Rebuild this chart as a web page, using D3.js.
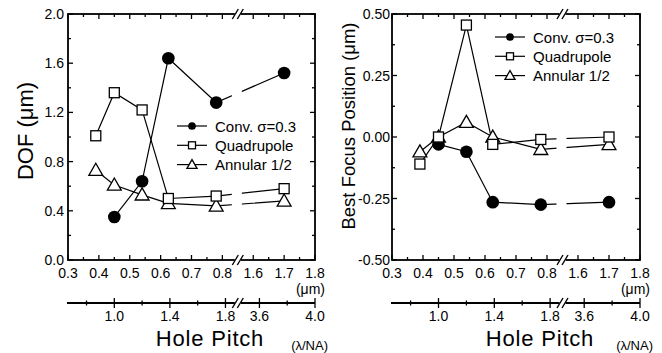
<!DOCTYPE html>
<html>
<head>
<meta charset="utf-8">
<script src="https://cdn.jsdelivr.net/npm/d3@7"></script>
<style>
  body { margin: 0; background: #fff; }
  text { font-family: "Liberation Sans", Arial, Helvetica, sans-serif; fill: #000; }
</style>
</head>
<body>
<div id="chart"></div>
<script>
// hole pitch of each measured point, in um (top axis)
var pitchUm = [0.39, 0.45, 0.54, 0.625, 0.78, 1.70];

// DOF (um)
var dofConv = [null, 0.35, 0.64, 1.64, 1.28, 1.52];
var dofQuad = [1.01, 1.36, 1.22, 0.50, 0.52, 0.58];
var dofAnn  = [0.73, 0.61, 0.53, 0.46, 0.44, 0.48];

// best focus position (um)
var bfConv = [null, -0.03, -0.06, -0.265, -0.275, -0.265];
var bfQuad = [-0.11, 0.0, 0.455, -0.03, -0.01, 0.0];
var bfAnn  = [-0.06, 0.0, 0.06, 0.0, -0.05, -0.03];

// axis ticks
var umTicks = [0.3, 0.4, 0.5, 0.6, 0.7, 0.8, 1.6, 1.7, 1.8];
var umMinor = [0.35, 0.45, 0.55, 0.65, 0.75, 1.65, 1.75];
var lnaTicks = [1.0, 1.4, 1.8, 3.6, 4.0];
var lnaMinor = [0.8, 1.2, 1.6, 3.8];
var dofTicks = [0.0, 0.4, 0.8, 1.2, 1.6, 2.0];
var dofMinor = [0.2, 0.6, 1.0, 1.4, 1.8];
var bfTicks = [-0.50, -0.25, 0.00, 0.25, 0.50];
var bfMinor = [-0.375, -0.125, 0.125, 0.375];

var seriesNames = ["Conv. \u03c3=0.3", "Quadrupole", "Annular 1/2"];
var lambdaNA = 0.45; // 1 lambda/NA in um
var breakLo = 0.85, breakHi = 1.55;

var svg = d3.select("#chart").append("svg")
  .attr("width", 662).attr("height", 353);

// marker drawing
function marker(g, kind, cx, cy, s) {
  if (kind == 0) {
    g.append("circle").attr("cx", cx).attr("cy", cy).attr("r", s * 0.55)
      .attr("fill", "#000");
  } else if (kind == 1) {
    g.append("rect").attr("x", cx - s / 2).attr("y", cy - s / 2)
      .attr("width", s).attr("height", s)
      .attr("fill", "#fff").attr("stroke", "#000").attr("stroke-width", 1.3);
  } else {
    var h = s * 1.05;
    g.append("path")
      .attr("d", "M" + cx + "," + (cy - h * 0.6) + "L" + (cx + h * 0.6) + "," + (cy + h * 0.45) +
        "L" + (cx - h * 0.6) + "," + (cy + h * 0.45) + "Z")
      .attr("fill", "#fff").attr("stroke", "#000").attr("stroke-width", 1.3);
  }
}

function slashes(g, x, y) {
  g.append("rect").attr("x", x - 3).attr("y", y - 2).attr("width", 6).attr("height", 4).attr("fill", "#fff");
  [-2.5, 2.5].forEach(function(d) {
    g.append("line").attr("x1", x + d - 3).attr("y1", y + 5)
      .attr("x2", x + d + 3).attr("y2", y - 5)
      .attr("stroke", "#000").attr("stroke-width", 1.4);
  });
}

function panel(opt) {
  var x0 = opt.x0, x1 = opt.x1, top = 14, bottom = 260;
  var xb = x0 + (breakLo - 0.3) / ((breakLo - 0.3) + (1.8 - breakHi)) * (x1 - x0);
  var x = d3.scaleLinear().domain([0.3, breakLo, breakHi, 1.8]).range([x0, xb, xb, x1]);
  var y = d3.scaleLinear().domain(opt.yDomain).range([bottom, top]);
  var g = svg.append("g");

  // frame
  g.append("rect").attr("x", x0).attr("y", top).attr("width", x1 - x0).attr("height", bottom - top)
    .attr("fill", "none").attr("stroke", "#000").attr("stroke-width", 1.8);

  // ticks, pointing inward
  var tk = g.append("g").attr("stroke", "#000").attr("stroke-width", 1.3);
  umTicks.concat(umMinor).forEach(function(v) {
    var len = umTicks.indexOf(v) >= 0 ? 5 : 3;
    tk.append("line").attr("x1", x(v)).attr("x2", x(v)).attr("y1", bottom).attr("y2", bottom - len);
    tk.append("line").attr("x1", x(v)).attr("x2", x(v)).attr("y1", top).attr("y2", top + len);
  });
  opt.yTicks.concat(opt.yMinor).forEach(function(v) {
    var len = opt.yTicks.indexOf(v) >= 0 ? 5 : 3;
    tk.append("line").attr("x1", x0).attr("x2", x0 + len).attr("y1", y(v)).attr("y2", y(v));
    tk.append("line").attr("x1", x1).attr("x2", x1 - len).attr("y1", y(v)).attr("y2", y(v));
  });

  // tick labels
  g.selectAll(".xl").data(umTicks).enter().append("text")
    .attr("x", function(d) { return x(d); }).attr("y", 278)
    .attr("text-anchor", "middle").style("font-size", "14px")
    .text(function(d) { return d.toFixed(1); });
  g.append("text").attr("x", x1 + 10).attr("y", 294).attr("text-anchor", "end")
    .style("font-size", "14px").text("(\u03bcm)");
  g.selectAll(".yl").data(opt.yTicks).enter().append("text")
    .attr("x", x0 - opt.yPad).attr("y", function(d) { return y(d) + 5; })
    .attr("text-anchor", "end").style("font-size", "14px")
    .text(function(d) { return d.toFixed(opt.yDigits); });

  slashes(g, xb, top);
  slashes(g, xb, bottom);

  // second axis, hole pitch in lambda/NA
  var ay = 303;
  var ag = g.append("g");
  ag.append("line").attr("x1", x0 - 1).attr("x2", x1).attr("y1", ay).attr("y2", ay)
    .attr("stroke", "#000").attr("stroke-width", 1.8);
  lnaTicks.concat(lnaMinor).forEach(function(v) {
    var len = lnaTicks.indexOf(v) >= 0 ? 5 : 2.5;
    ag.append("line").attr("x1", x(v * lambdaNA)).attr("x2", x(v * lambdaNA))
      .attr("y1", ay - len).attr("y2", ay + len)
      .attr("stroke", "#000").attr("stroke-width", 1.3);
  });
  ag.selectAll("text.ln").data(lnaTicks).enter().append("text")
    .attr("x", function(d) { return x(d * lambdaNA); }).attr("y", 321)
    .attr("text-anchor", "middle").style("font-size", "14px")
    .text(function(d) { return d.toFixed(1); });
  slashes(ag, xb, ay);
  ag.append("text").attr("x", x1 + 13).attr("y", 350).attr("text-anchor", "end")
    .style("font-size", "13px").text("(\u03bb/NA)");
  ag.append("text").attr("x", opt.pitchX).attr("y", 346).attr("text-anchor", "middle")
    .style("font-size", "22px").style("letter-spacing", "0.8px").text("Hole Pitch");

  // y title
  g.append("text")
    .attr("transform", "translate(" + opt.titleX + "," + opt.titleY + ") rotate(-90)")
    .attr("text-anchor", "middle").style("font-size", opt.titleSize)
    .text(opt.title);

  // data lines with a gap at the axis break
  var clipId = "clip" + opt.id;
  var cp = svg.append("clipPath").attr("id", clipId);
  cp.append("rect").attr("x", 0).attr("y", 0).attr("width", xb - 6).attr("height", 353);
  cp.append("rect").attr("x", xb + 4).attr("y", 0).attr("width", 662).attr("height", 353);

  var line = d3.line()
    .defined(function(d) { return d[1] != null; })
    .x(function(d) { return x(d[0]); })
    .y(function(d) { return y(d[1]); });

  opt.series.forEach(function(vals, k) {
    var pts = pitchUm.map(function(p, i) { return [p, vals[i]]; });
    g.append("path").datum(pts).attr("d", line)
      .attr("clip-path", "url(#" + clipId + ")")
      .attr("fill", "none").attr("stroke", "#000").attr("stroke-width", 1.2);
  });
  // markers drawn on top (open ones last)
  [0, 2, 1].forEach(function(k) {
    opt.series[k].forEach(function(v, i) {
      if (v == null) return;
      marker(g, k, x(pitchUm[i]), y(v), k == 0 ? 11.5 : (k == 1 ? 10 : 11));
    });
  });

  // legend
  seriesNames.forEach(function(name, k) {
    var ly = opt.legY + k * 19.3;
    g.append("line").attr("x1", opt.legX).attr("x2", opt.legX + 30)
      .attr("y1", ly).attr("y2", ly).attr("stroke", "#000").attr("stroke-width", 1.2);
    marker(g, k, opt.legX + 15, ly, k == 0 ? 7 : (k == 1 ? 7 : 8));
    g.append("text").attr("x", opt.legX + 38).attr("y", ly + 5.5)
      .style("font-size", "15px").text(name);
  });
}

panel({
  id: "a", x0: 68, x1: 315, yDomain: [0, 2],
  yTicks: dofTicks, yMinor: dofMinor, yDigits: 1, yPad: 4,
  title: "DOF (\u03bcm)", titleX: 33, titleY: 131, titleSize: "22px",
  series: [dofConv, dofQuad, dofAnn], legX: 177, legY: 126, pitchX: 210
});

panel({
  id: "b", x0: 392, x1: 640, yDomain: [-0.5, 0.5],
  yTicks: bfTicks, yMinor: bfMinor, yDigits: 2, yPad: 2,
  title: "Best Focus Position (\u03bcm)", titleX: 355, titleY: 126, titleSize: "18.5px",
  series: [bfConv, bfQuad, bfAnn], legX: 495, legY: 37, pitchX: 540
});
</script>
</body>
</html>
